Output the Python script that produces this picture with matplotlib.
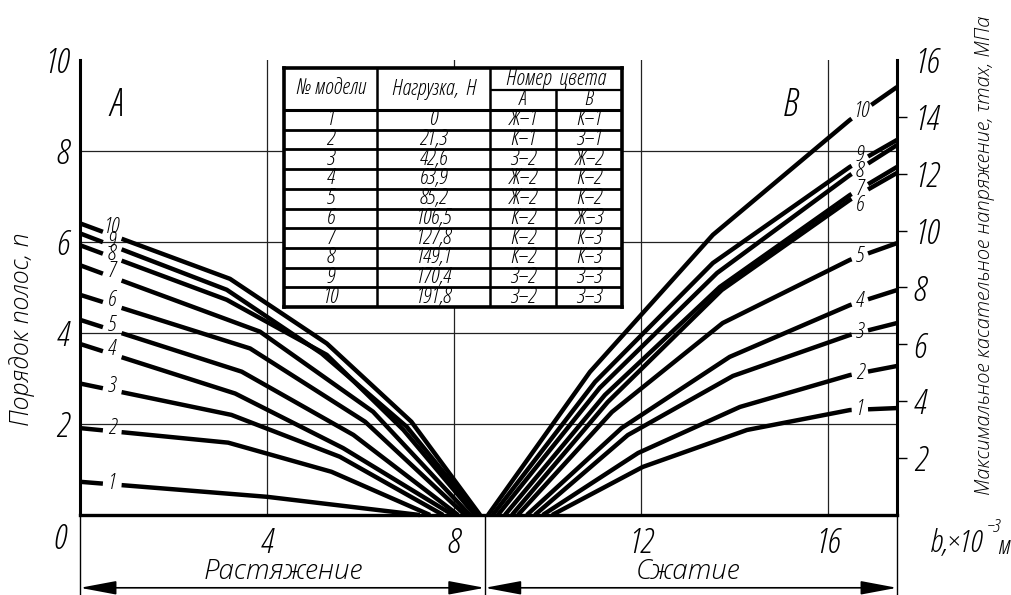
import numpy as np
import matplotlib
matplotlib.use('Agg')
import matplotlib.pyplot as plt

plt.rcParams['font.family'] = ['Open Sans', 'DejaVu Sans']
plt.rcParams['font.style'] = 'italic'
plt.rcParams['font.stretch'] = 'condensed'
plt.rcParams['font.weight'] = 'light'

# ---------------- data ----------------
models = [1, 2, 3, 4, 5, 6, 7, 8, 9, 10]
loads = ['0', '21,3', '42,6', '63,9', '85,2', '106,5', '127,8', '149,1', '170,4', '191,8']
color_A = ['Ж–1', 'К–1', 'З–2', 'Ж–2', 'Ж–2', 'К–2', 'К–2', 'К–2', 'З–2', 'З–2']
color_B = ['К–1', 'З–1', 'Ж–2', 'К–2', 'К–2', 'Ж–3', 'К–3', 'К–3', 'З–3', 'З–3']

# zone A (tension): b (x10^-3 m) vs fringe order n
tens_b = [
    [0, 4.00, 7.27],
    [0, 3.17, 5.38, 7.49],
    [0, 3.24, 5.56, 7.77],
    [0, 3.32, 5.63, 7.98],
    [0, 3.46, 5.85, 8.09],
    [0, 3.64, 6.10, 8.24],
    [0, 3.85, 6.27, 8.34],
    [0, 3.14, 5.28, 6.92, 8.45],
    [0, 3.14, 5.17, 6.99, 8.52],
    [0, 3.21, 5.28, 7.09, 8.56],
]
tens_n = [
    [0.73, 0.40, 0],
    [1.91, 1.59, 0.95, 0],
    [2.89, 2.20, 1.28, 0],
    [3.76, 2.67, 1.47, 0],
    [4.29, 3.15, 1.76, 0],
    [4.84, 3.66, 2.05, 0],
    [5.49, 4.03, 2.27, 0],
    [5.93, 4.73, 3.52, 1.87, 0],
    [6.19, 4.95, 3.55, 1.94, 0],
    [6.41, 5.19, 3.77, 2.05, 0],
]

# zone B (compression): b (x10^-3 m) vs tau_max (MPa)
comp_b = [
    [10.10, 12.04, 14.27, 16.47, 17.48],
    [9.90, 11.94, 14.12, 16.47, 17.48],
    [9.73, 11.72, 13.97, 16.47, 17.48],
    [9.56, 11.59, 13.90, 16.47, 17.48],
    [9.37, 11.38, 13.75, 16.47, 17.48],
    [9.24, 11.29, 13.73, 16.47, 17.48],
    [9.09, 11.23, 13.69, 16.47, 17.48],
    [8.94, 11.12, 13.63, 16.47, 17.48],
    [8.83, 11.02, 13.54, 16.47, 17.48],
    [8.73, 10.91, 13.54, 16.47, 17.48],
]
comp_tau = [
    [0, 1.69, 2.99, 3.69, 3.76],
    [0, 2.18, 3.80, 4.92, 5.24],
    [0, 2.81, 4.89, 6.33, 6.75],
    [0, 3.06, 5.56, 7.38, 7.91],
    [0, 3.62, 6.75, 8.97, 9.56],
    [0, 3.97, 7.91, 11.08, 12.03],
    [0, 4.22, 8.02, 11.25, 12.24],
    [0, 4.47, 8.51, 11.95, 13.01],
    [0, 4.68, 8.86, 12.24, 13.19],
    [0, 5.03, 9.85, 13.89, 15.05],
]

b_ticks = [4, 8, 12, 16]
n_ticks = [2, 4, 6, 8, 10]
n_grid = [2, 4, 6, 8]
tau_ticks = [2, 4, 6, 8, 10, 12, 14, 16]
b_split = 8.66       # boundary tension / compression
b_max = 17.48

# label position nudges (style only)
left_lab_dy = [0.02, 0.06, 0.08, 0.1, 0.1, 0.1, 0.12, 0.05, 0.09, 0.16]
right_lab_dy = [0, 0, 0, 0, 0, -0.4, 0, -0.1, 0.2, 0]

W, H = 1011, 595
fig = plt.figure(figsize=(W / 100, H / 100), dpi=100)
ax = fig.add_axes([80 / W, 80 / H, 817 / W, 455 / H])
ax.set_xlim(0, b_max)
ax.set_ylim(0, 10)

for v in b_ticks:
    ax.axvline(v, color='#222222', lw=0.9, zorder=1)
for v in n_grid:
    ax.axhline(v, color='#222222', lw=0.9, zorder=1)


def split(xs, ys, g0, g1):
    xs = np.asarray(xs, float)
    ys = np.asarray(ys, float)
    y0 = np.interp(g0, xs, ys)
    y1 = np.interp(g1, xs, ys)
    m1 = xs < g0
    m2 = xs > g1
    return (np.r_[xs[m1], g0], np.r_[ys[m1], y0]), (np.r_[g1, xs[m2]], np.r_[y1, ys[m2]])


LW = 3.2
lab_fs = 16
# tension curves
for i, (xs, ys) in enumerate(zip(tens_b, tens_n)):
    a, b = split(xs, ys, 0.49, 0.89)
    ax.plot(*a, color='k', lw=LW, solid_capstyle='butt', zorder=3, clip_on=False)
    ax.plot(*b, color='k', lw=LW, solid_capstyle='butt', zorder=3, clip_on=False)
    ly = np.interp(0.68, xs, ys) + left_lab_dy[i]
    ax.text(0.68, ly, str(models[i]), ha='center', va='center', fontsize=lab_fs, zorder=4)

ax2 = ax.twinx()
ax2.set_ylim(0, 16)
ax2.set_xlim(0, b_max)
for i, (xs, ys) in enumerate(zip(comp_b, comp_tau)):
    g1 = 16.93 if models[i] == 10 else 16.86
    a, b = split(xs, ys, 16.51, g1)
    ax2.plot(*a, color='k', lw=LW, solid_capstyle='butt', zorder=3, clip_on=False)
    ax2.plot(*b, color='k', lw=LW, solid_capstyle='butt', zorder=3, clip_on=False)
    lx = 16.72 if models[i] == 10 else 16.68
    ly = np.interp(lx, xs, ys) + right_lab_dy[i]
    ax2.text(lx, ly, str(models[i]), ha='center', va='center', fontsize=lab_fs, zorder=4)

# axes styling
ax.set_xticks(b_ticks)
ax.set_xticklabels([str(v) for v in b_ticks])
ax.set_yticks(n_ticks)
ax.set_yticklabels([str(v) for v in n_ticks])
ax.tick_params(axis='x', length=0, pad=8, labelsize=25)
ax.tick_params(axis='y', length=0, pad=8, labelsize=25)
for s in ['top', 'right']:
    ax.spines[s].set_visible(False)
ax.spines['left'].set_linewidth(2.2)
ax.spines['bottom'].set_linewidth(2.4)

ax2.set_yticks(tau_ticks)
ax2.set_yticklabels([str(v) for v in tau_ticks])
ax2.tick_params(axis='y', length=7, width=1.0, pad=5, labelsize=25, direction='out')
ax2.yaxis.get_major_ticks()[-1].tick2line.set_visible(False)
for s in ['top', 'left', 'bottom']:
    ax2.spines[s].set_visible(False)
ax2.spines['right'].set_linewidth(2.2)

fig.text(60 / W, 1 - 540 / H, '0', ha='center', va='center', fontsize=25)

ax.text(0.78, 9.0, 'A', fontsize=27, ha='center', va='center')
ax.text(15.19, 9.0, 'B', fontsize=27, ha='center', va='center')

# axis titles (wider face)
wide = dict(stretch='normal', weight='light', style='italic')
fig.text(22 / W, 1 - 329 / H, 'Порядок полос, n', rotation=90, ha='center', va='center',
         fontsize=18, **wide)
fig.text(985 / W, 1 - 255 / H, 'Максимальное касательное напряжение, τmax, МПа', rotation=90,
         ha='center', va='center', fontsize=14.5, **wide)

fig.text(930 / W, 1 - 543 / H, 'b,×10', ha='left', va='center', fontsize=23)
fig.text(987 / W, 1 - 527 / H, '−3', ha='left', va='center', fontsize=14)
fig.text(997 / W, 1 - 548 / H, 'м', ha='left', va='center', fontsize=19)

# dimension lines
ytr = ax.get_xaxis_transform()
for xv in [0, b_split, b_max]:
    ax.plot([xv, xv], [0, -0.176], transform=ytr, color='k', lw=1.0, clip_on=False)
arrow = dict(arrowstyle='<|-|>,head_length=1.6,head_width=0.3', mutation_scale=14,
             lw=1.2, color='k', shrinkA=0, shrinkB=0)
ax.annotate('', xy=(0, -0.160), xytext=(b_split, -0.160), xycoords=ytr, textcoords=ytr,
            arrowprops=arrow, annotation_clip=False)
ax.annotate('', xy=(b_split, -0.160), xytext=(b_max, -0.160), xycoords=ytr, textcoords=ytr,
            arrowprops=arrow, annotation_clip=False)
ax.text(4.34, -0.124, 'Растяжение', transform=ytr, ha='center', va='center', fontsize=20, **wide)
ax.text(13.0, -0.124, 'Сжатие', transform=ytr, ha='center', va='center', fontsize=20, **wide)

# ---------------- table ----------------
tx0, tx1, ty0, ty1 = 284, 622, 68, 307
c1, c2, c3 = 377, 490, 556
hy1, hy2 = 90, 110
tab = fig.add_axes([tx0 / W, 1 - ty1 / H, (tx1 - tx0) / W, (ty1 - ty0) / H], zorder=6)
tab.set_xlim(tx0, tx1)
tab.set_ylim(ty1, ty0)
tab.set_facecolor('white')
tab.set_xticks([])
tab.set_yticks([])
for s in tab.spines.values():
    s.set_linewidth(2.6)
rh = (ty1 - hy2) / len(models)
tab.hlines(hy2, tx0, tx1, color='k', lw=2.2)
tab.hlines(hy1, c2, tx1, color='k', lw=1.6)
for i in range(1, len(models)):
    tab.hlines(hy2 + i * rh, tx0, tx1, color='k', lw=2.0)
tab.vlines([c1, c2], ty0, ty1, color='k', lw=1.8)
tab.vlines(c3, hy1, ty1, color='k', lw=1.8)
tfs = 16
tab.text((tx0 + c1) / 2, (ty0 + hy2) / 2, '№ модели', ha='center', va='center', fontsize=tfs)
tab.text((c1 + c2) / 2, (ty0 + hy2) / 2, 'Нагрузка,  Н', ha='center', va='center', fontsize=tfs)
tab.text((c2 + tx1) / 2, (ty0 + hy1) / 2, 'Номер  цвета', ha='center', va='center', fontsize=tfs)
tab.text((c2 + c3) / 2, (hy1 + hy2) / 2, 'A', ha='center', va='center', fontsize=tfs - 1)
tab.text((c3 + tx1) / 2, (hy1 + hy2) / 2, 'B', ha='center', va='center', fontsize=tfs - 1)
for i in range(len(models)):
    yc = hy2 + (i + 0.5) * rh
    tab.text((tx0 + c1) / 2, yc, str(models[i]), ha='center', va='center', fontsize=tfs)
    tab.text((c1 + c2) / 2, yc, loads[i], ha='center', va='center', fontsize=tfs)
    tab.text((c2 + c3) / 2, yc, color_A[i], ha='center', va='center', fontsize=tfs)
    tab.text((c3 + tx1) / 2, yc, color_B[i], ha='center', va='center', fontsize=tfs)

fig.savefig('out.png', dpi=100)
